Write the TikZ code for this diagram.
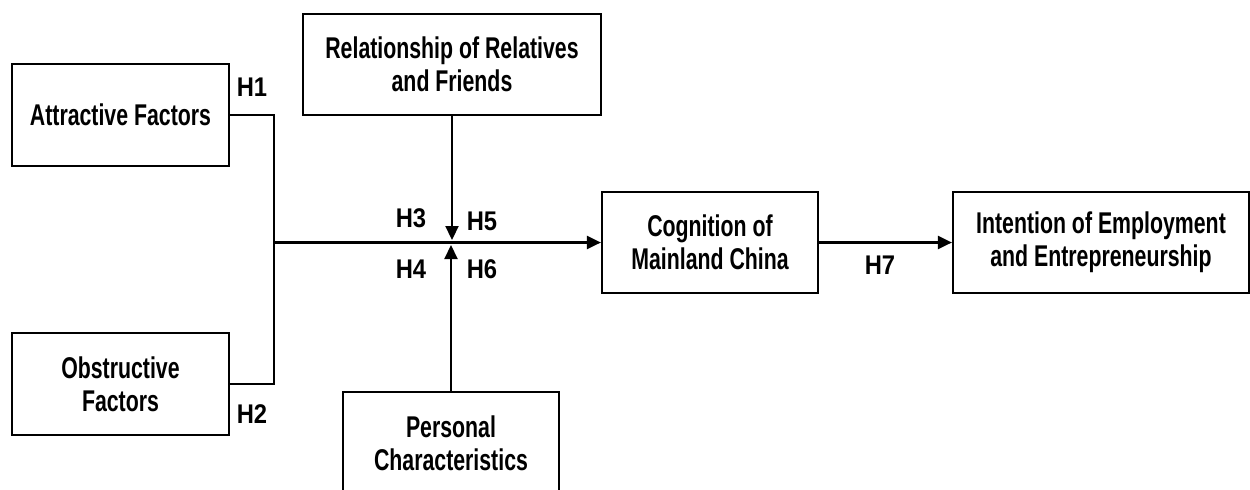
\documentclass[tikz,border=0pt]{standalone}
\usepackage{fontspec}
\newfontfamily\bxf{Liberation Sans}[FakeStretch=0.71]
\newfontfamily\lbf{Liberation Sans}[FakeStretch=0.88]
\usetikzlibrary{arrows.meta}
\begin{document}
\begin{tikzpicture}[x=0.5pt,y=-0.5pt,
  box/.style={draw,line width=1.1pt,inner sep=0pt,align=center,
    font=\bxf\bfseries\fontsize{15}{16.5}\selectfont},
  lab/.style={font=\lbf\bfseries\fontsize{13.5}{14}\selectfont,inner sep=0pt},
  conn/.style={line width=1.1pt},
  arr/.style={conn,-{Triangle[length=7pt,width=6.5pt]}}]
\useasboundingbox (0,0) rectangle (1250,489);
\clip (0,0) rectangle (1250,489);
% boxes
\node[box,minimum width=108.5pt,minimum height=51pt] (att) at (120.5,115) {Attractive Factors};
\node[box,minimum width=108.5pt,minimum height=51pt] (obs) at (120.5,384) {Obstructive\\Factors};
\node[box,minimum width=149pt,minimum height=50.5pt] (rel) at (452,64.5) {Relationship of Relatives\\and Friends};
\node[box,minimum width=108pt,minimum height=51pt] (per) at (451,443) {Personal\\Characteristics};
\node[box,minimum width=108pt,minimum height=50.5pt] (cog) at (710,242.5) {Cognition of\\Mainland China};
\node[box,minimum width=148pt,minimum height=50.5pt] (int) at (1101,242.5) {Intention of Employment\\and Entrepreneurship};
% connectors
\coordinate (j) at (274,242.5);
\coordinate (mdn) at (452,240);
\coordinate (mup) at (451,245);
\draw[conn] (att.east) -| (j) |- (obs.east);
\draw[arr] (j) -- (cog.west);
\draw[arr] (rel.south) -- (mdn);
\draw[arr] (per.north) -- (mup);
\draw[arr] (cog.east) -- (int.west);
% labels
\node[lab] (h1) at (252,87) {H1};
\node[lab] (h2) at (252,414) {H2};
\node[lab] (h3) at (411,218) {H3};
\node[lab] (h5) at (482,221) {H5};
\node[lab] (h4) at (411,269) {H4};
\node[lab] (h6) at (482,269) {H6};
\node[lab] (h7) at (880,265) {H7};
\end{tikzpicture}
\end{document}
